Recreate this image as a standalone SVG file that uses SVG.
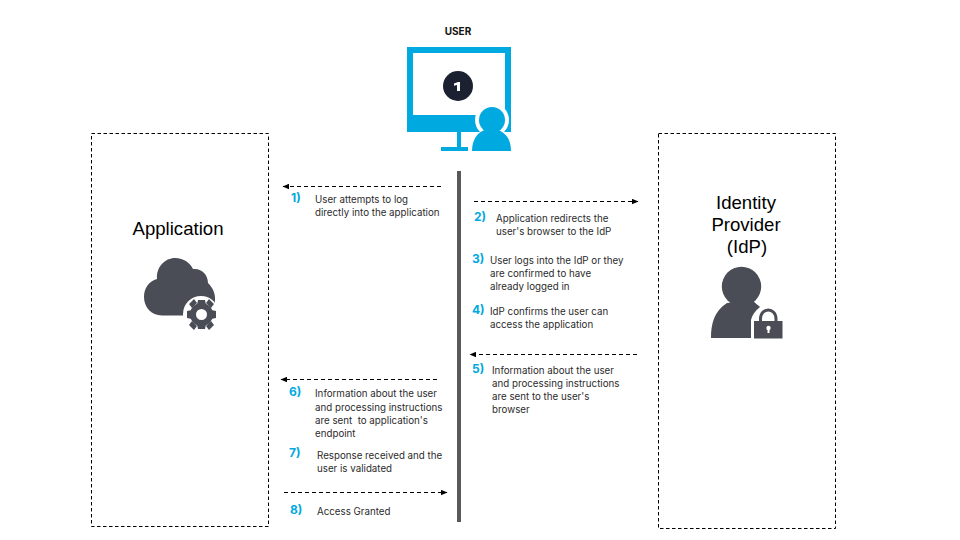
<svg xmlns="http://www.w3.org/2000/svg" width="960" height="540" viewBox="0 0 960 540">
<style>
text{font-family:"Inter","Liberation Sans",sans-serif}
.box{fill:#fff;stroke:#000;stroke-width:1;stroke-dasharray:3.5 2.5}
.conn{fill:none;stroke:#000;stroke-width:1;stroke-dasharray:4 3;marker-end:url(#a)}
.d{font-size:9.75px;fill:#2b2b2b}
.n{font-size:12px;font-weight:700;fill:#00a9e0}
.t{font-family:"Liberation Sans",sans-serif;font-size:18.6px;fill:#000;text-anchor:middle}
.g{fill:#4a4d55}
.b{fill:#00a9e0}
</style>
<defs><marker id="a" markerUnits="userSpaceOnUse" markerWidth="7" markerHeight="6" refX="6" refY="3" orient="auto"><path d="M0 0.3L6.500 3L0 5.700z" fill="#000"/></marker></defs>
<rect width="960" height="540" fill="#fff"/>
<g id="application">
<rect class="box" x="91.500" y="133.500" width="177" height="393"/>
<text class="t" x="178" y="235">Application</text>
<path class="g" d="M162 315.500C151 315.500 144 307 144 297C144 288 149 281 157 279C156 267 165 258 175 258C184 258 190 263 193 269C202 268 208 275 208 283C212 287 215 292 215 298V315.500z"/>
<circle cx="201" cy="314" r="18" fill="#fff"/>
<circle cx="201.500" cy="314.500" r="8.500" fill="none" stroke="#4a4d55" stroke-width="6"/>
<path class="g" d="M198 300h7l1 5h-9zM198 329h7l1-5h-9zM187 311v7l5 1v-9zM216 311v7l-5 1v-9zM189 304l5-5 3 4-5 5zM214 304l-5-5-3 4 5 5zM189 325l5 5 3-4-5-5zM214 325l-5 5-3-4 5-5z"/>
</g>
<g id="user">
<text x="458" y="35" text-anchor="middle" font-size="10" font-weight="700" fill="#111">USER</text>
<path class="b" fill-rule="evenodd" d="M407 47h104v85h-104zM413 53v62h92v-62z"/>
<rect x="457" y="132" width="4" height="16" class="b"/>
<rect x="441" y="147" width="27" height="4" class="b"/>
<circle cx="458" cy="86" r="15" fill="#1b2130"/>
<path d="M454 83.500l4-1.500h2v9h-3v-6l-3 .8z" fill="#fff"/>
<circle cx="492" cy="120" r="17" fill="#fff"/>
<path d="M470 136H514V152H470z" fill="#fff"/>
<path d="M472 151C472 137 480 129 491 129C503 129 511 137 511 151z" class="b"/>
<circle cx="492" cy="120" r="13" class="b"/>
</g>
<g id="idp">
<rect class="box" x="658.500" y="133.500" width="177" height="395"/>
<text class="t"><tspan x="746" y="209">Identity</tspan><tspan x="746" y="231">Provider</tspan><tspan x="747" y="253">(IdP)</tspan></text>
<circle class="g" cx="741.500" cy="286.500" r="19.700"/>
<path class="g" d="M711 338C711 324 714 311 727 303L752 300C755 303 758 305 760 307C755 311 752 315 751 320V338Z"/>
<rect x="754" y="321" width="28.500" height="17.500" class="g"/>
<path d="M760.500 321v-2C760.500 307 776 307 776 319v2" fill="none" stroke="#4a4d55" stroke-width="3"/>
<circle cx="768.500" cy="328" r="2.200" fill="#fff"/>
<rect x="767.500" y="329" width="2" height="4" fill="#fff"/>
</g>
<rect id="lifeline" x="457" y="171" width="4" height="351" fill="#595959"/>
<g id="connectors">
<path class="conn" d="M441 186.500H283"/>
<path class="conn" d="M474 201.500H638"/>
<path class="conn" d="M637 354.500H470"/>
<path class="conn" d="M437 379.500H281"/>
<path class="conn" d="M284 492.500H447"/>
</g>
<g id="labels">
<text class="n" x="291" y="202">1)</text>
<text class="d"><tspan x="315" y="203">User attempts to log</tspan><tspan x="315" y="216">directly into the application</tspan></text>
<text class="n" x="474" y="221">2)</text>
<text class="d"><tspan x="496" y="222">Application redirects the</tspan><tspan x="496" y="235">user's browser to the IdP</tspan></text>
<text class="n" x="472" y="263">3)</text>
<text class="d"><tspan x="490" y="264">User logs into the IdP or they</tspan><tspan x="490" y="277">are confirmed to have</tspan><tspan x="490" y="290">already logged in</tspan></text>
<text class="n" x="472" y="314">4)</text>
<text class="d"><tspan x="490" y="315">IdP confirms the user can</tspan><tspan x="490" y="328">access the application</tspan></text>
<text class="n" x="472" y="373">5)</text>
<text class="d"><tspan x="492" y="374">Information about the user</tspan><tspan x="492" y="387">and processing instructions</tspan><tspan x="492" y="400">are sent to the user's</tspan><tspan x="492" y="413">browser</tspan></text>
<text class="n" x="289" y="396">6)</text>
<text class="d"><tspan x="315" y="397">Information about the user</tspan><tspan x="315" y="411">and processing instructions</tspan><tspan x="315" y="424" style="white-space:pre">are sent  to application's</tspan><tspan x="315" y="437">endpoint</tspan></text>
<text class="n" x="289" y="457">7)</text>
<text class="d"><tspan x="317" y="459">Response received and the</tspan><tspan x="317" y="472">user is validated</tspan></text>
<text class="n" x="290" y="514">8)</text>
<text class="d" x="317" y="515">Access Granted</text>
</g>
</svg>
